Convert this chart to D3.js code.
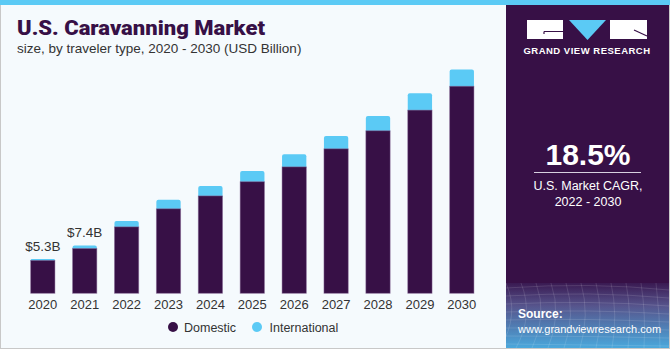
<!DOCTYPE html>
<html>
<head>
<meta charset="utf-8">
<script src="https://cdn.jsdelivr.net/npm/d3@7"></script>
<style>
  body { margin: 0; background: #fff; }
  svg { display: block; }
</style>
</head>
<body>
<div id="chart"></div>
<script>
// Data (USD Billion)
var years = ["2020", "2021", "2022", "2023", "2024", "2025", "2026", "2027", "2028", "2029", "2030"];
var domestic = [5.1, 6.95, 10.3, 13.1, 15.1, 17.3, 19.6, 22.4, 25.2, 28.4, 32.1];
var international = [0.2, 0.45, 0.9, 1.4, 1.55, 1.65, 1.95, 2.0, 2.3, 2.6, 2.6];
var valueLabels = ["$5.3B", "$7.4B"];
var seriesNames = ["Domestic", "International"];

var width = 670, height = 350;
var purple = "#371046", blue = "#5bcaf5";

var svg = d3.select("#chart").append("svg")
  .attr("width", width)
  .attr("height", height);

var defs = svg.append("defs");

// left panel
svg.append("rect")
  .attr("x", 0.5).attr("y", 0.5)
  .attr("width", width - 1).attr("height", height - 2)
  .attr("fill", "#f5fafd")
  .attr("stroke", "#c8c8c8");

// top stripe
svg.append("rect")
  .attr("x", 0).attr("y", 0)
  .attr("width", width).attr("height", 5)
  .attr("fill", blue);

// right panel
svg.append("rect")
  .attr("x", 506).attr("y", 5)
  .attr("width", 163).attr("height", 343)
  .attr("fill", purple);

// source gradient box
var grad = defs.append("linearGradient")
  .attr("id", "srcGrad")
  .attr("x1", "0%").attr("y1", "0%")
  .attr("x2", "0%").attr("y2", "100%");
grad.append("stop").attr("offset", "0%").attr("stop-color", "#3a1a52");
grad.append("stop").attr("offset", "35%").attr("stop-color", "#56548c");
grad.append("stop").attr("offset", "100%").attr("stop-color", "#4aa8dc");

svg.append("rect")
  .attr("x", 506).attr("y", 283)
  .attr("width", 163).attr("height", 65)
  .attr("fill", "url(#srcGrad)");

// faint mesh lines in source box
var mesh = svg.append("g").attr("stroke", "#ffffff").attr("stroke-opacity", 0.12).attr("fill", "none");
d3.range(0, 12).forEach(function(i) {
  mesh.append("path").attr("d", "M" + (506 + i * 15) + ",283 Q" + (520 + i * 14) + ",315 " + (500 + i * 16) + ",348");
});
d3.range(0, 8).forEach(function(i) {
  mesh.append("path").attr("d", "M506," + (288 + i * 8) + " Q590," + (282 + i * 9) + " 669," + (290 + i * 8));
});

// logo
var logo = svg.append("g");
logo.append("rect").attr("x", 527).attr("y", 20).attr("width", 36).attr("height", 19).attr("fill", "#fff");
logo.append("path").attr("d", "M544,31.5 H563 M544,31.5 V34").attr("stroke", purple).attr("stroke-width", 1.2).attr("fill", "none");
logo.append("path").attr("d", "M569,20 H606 L587.5,40 Z").attr("fill", blue);
logo.append("rect").attr("x", 610).attr("y", 20).attr("width", 37).attr("height", 19).attr("fill", "#fff");
logo.append("path").attr("d", "M634,30 L647,36").attr("stroke", purple).attr("stroke-width", 1.2).attr("fill", "none");
svg.append("text")
  .attr("x", 587).attr("y", 53.5)
  .attr("text-anchor", "middle")
  .attr("fill", "#fff")
  .style("font", "bold 9.5px 'Liberation Sans', Arial, sans-serif")
  .style("letter-spacing", "0.5px")
  .text("GRAND VIEW RESEARCH");

// CAGR
svg.append("text")
  .attr("x", 588).attr("y", 165)
  .attr("text-anchor", "middle")
  .attr("fill", "#fff")
  .style("font", "bold 30px 'Liberation Sans', Arial, sans-serif")
  .text("18.5%");
svg.append("line")
  .attr("x1", 534).attr("x2", 641)
  .attr("y1", 172.5).attr("y2", 172.5)
  .attr("stroke", "#d8d0e0").attr("stroke-width", 1);
svg.append("text")
  .attr("x", 588).attr("y", 190)
  .attr("text-anchor", "middle")
  .attr("fill", "#fff")
  .style("font", "12.5px 'Liberation Sans', Arial, sans-serif")
  .text("U.S. Market CAGR,");
svg.append("text")
  .attr("x", 588).attr("y", 205.5)
  .attr("text-anchor", "middle")
  .attr("fill", "#fff")
  .style("font", "12.5px 'Liberation Sans', Arial, sans-serif")
  .text("2022 - 2030");

// source
svg.append("text")
  .attr("x", 518).attr("y", 318)
  .attr("fill", "#fff")
  .style("font", "bold 12px 'Liberation Sans', Arial, sans-serif")
  .text("Source:");
svg.append("text")
  .attr("x", 518).attr("y", 333)
  .attr("fill", "#fff")
  .style("font", "11px 'Liberation Sans', Arial, sans-serif")
  .text("www.grandviewresearch.com");

// titles
svg.append("text")
  .attr("x", 17).attr("y", 35)
  .attr("fill", purple)
  .attr("textLength", 248)
  .attr("lengthAdjust", "spacingAndGlyphs")
  .style("font", "900 19.5px Roboto, 'Liberation Sans', sans-serif")
  .text("U.S. Caravanning Market");
svg.append("text")
  .attr("x", 17).attr("y", 53)
  .attr("fill", "#333")
  .style("font", "13.5px 'Liberation Sans', Arial, sans-serif")
  .text("size, by traveler type, 2020 - 2030 (USD Billion)");

// scales
var x = d3.scaleBand()
  .domain(years)
  .range([21.85, 482.75])
  .paddingInner(0.42)
  .paddingOuter(0.21);

var y = d3.scaleLinear()
  .domain([0, 40])
  .range([293.3, 35.3]);

var rows = years.map(function(yr, i) {
  return { year: yr, Domestic: domestic[i], International: international[i] };
});
var stacked = d3.stack().keys(seriesNames)(rows);
var colors = d3.scaleOrdinal().domain(seriesNames).range([purple, blue]);

var plot = svg.append("g");

// international on top (rounded top corners)
plot.selectAll("path.intl")
  .data(stacked[1])
  .enter().append("path")
  .attr("class", "intl")
  .attr("fill", blue)
  .attr("d", function(d) {
    var x0 = x(d.data.year), w = x.bandwidth();
    var yt = y(d[1]), yb = y(d[0]) + 1, r = Math.min(2, (yb - yt) / 2);
    return "M" + x0 + "," + yb + " V" + (yt + r) + " Q" + x0 + "," + yt + " " + (x0 + r) + "," + yt +
      " H" + (x0 + w - r) + " Q" + (x0 + w) + "," + yt + " " + (x0 + w) + "," + (yt + r) + " V" + yb + " Z";
  });

plot.selectAll("rect.dom")
  .data(stacked[0])
  .enter().append("rect")
  .attr("class", "dom")
  .attr("x", function(d) { return x(d.data.year); })
  .attr("y", function(d) { return y(d[1]); })
  .attr("width", x.bandwidth())
  .attr("height", function(d) { return y(d[0]) - y(d[1]); })
  .attr("fill", purple)
  .attr("stroke", "#8a6d99")
  .attr("stroke-opacity", 0.6)
  .attr("stroke-width", 0.8);

// value labels for first two years
plot.selectAll("text.val")
  .data(valueLabels)
  .enter().append("text")
  .attr("class", "val")
  .attr("x", function(d, i) { return x(years[i]) + x.bandwidth() / 2; })
  .attr("y", function(d, i) { return y(domestic[i] + international[i]) - 8.5; })
  .attr("text-anchor", "middle")
  .attr("fill", "#333")
  .style("font", "13.5px 'Liberation Sans', Arial, sans-serif")
  .text(function(d) { return d; });

// x axis
var xAxis = d3.axisBottom(x).tickSize(0).tickPadding(6);
var gx = svg.append("g")
  .attr("transform", "translate(0," + 293.3 + ")")
  .call(xAxis);
gx.select(".domain").remove();
gx.selectAll("text")
  .attr("fill", "#333")
  .style("font", "13px 'Liberation Sans', Arial, sans-serif");

// legend
var legendX = [173, 257];
var legend = svg.append("g").selectAll("g")
  .data(seriesNames)
  .enter().append("g")
  .attr("transform", function(d, i) { return "translate(" + legendX[i] + ",327)"; });
legend.append("circle")
  .attr("r", 5)
  .attr("fill", function(d) { return colors(d); });
legend.append("text")
  .attr("x", function(d, i) { return i === 0 ? 11 : 12.5; })
  .attr("y", 4.5)
  .attr("fill", "#333")
  .style("font", "12.5px 'Liberation Sans', Arial, sans-serif")
  .text(function(d) { return d; });
</script>
</body>
</html>
